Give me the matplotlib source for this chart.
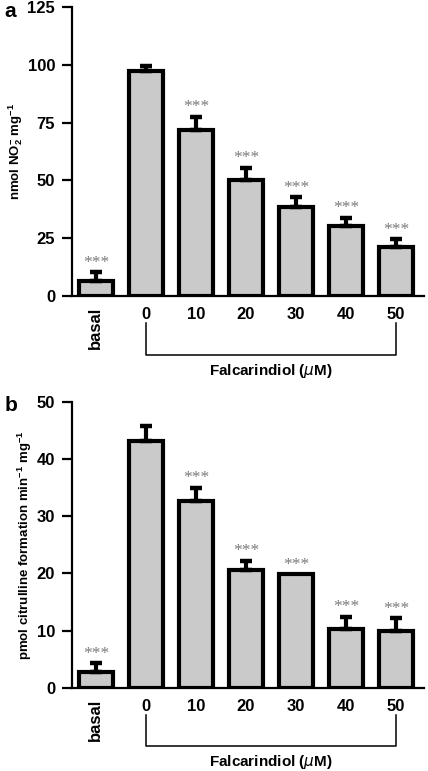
import matplotlib.pyplot as plt
import matplotlib.transforms as mtransforms

plt.rcParams['font.family'] = ['Liberation Sans', 'DejaVu Sans']
plt.rcParams['mathtext.default'] = 'regular'

# categories
labels = ['basal', '0', '10', '20', '30', '40', '50']

# panel a: nitrite production
no2_mean = [6.5, 97.5, 72.0, 50.0, 38.7, 30.3, 21.2]
no2_err = [3.8, 2.0, 5.5, 5.5, 4.0, 3.5, 3.5]
no2_sig = ['***', '', '***', '***', '***', '***', '***']

# panel b: citrulline formation
cit_mean = [2.7, 43.1, 32.7, 20.6, 19.8, 10.2, 9.9]
cit_err = [1.6, 2.7, 2.3, 1.6, 0.0, 2.2, 2.3]
cit_sig = ['***', '', '***', '***', '***', '***', '***']

fig = plt.figure(figsize=(4.28, 7.71), dpi=100)
ax_a = fig.add_axes([0.168, 0.616, 0.823, 0.375])
ax_b = fig.add_axes([0.168, 0.108, 0.823, 0.371])


def draw_panel(ax, mean, err, sig, ymax, step, ylabel, letter):
    x = list(range(len(mean)))
    ax.bar(x, mean, width=0.68, color='#cacaca', edgecolor='black',
           linewidth=3, zorder=2)
    xe = [i for i in x if err[i] > 0]
    ax.errorbar(xe, [mean[i] for i in xe],
                yerr=[[0] * len(xe), [err[i] for i in xe]],
                fmt='none', ecolor='black', elinewidth=3, capsize=4.5,
                capthick=3.2, zorder=3)
    for i in x:
        if sig[i]:
            ax.annotate(sig[i], (i, mean[i] + err[i]), xytext=(0, 1),
                        textcoords='offset points', ha='center', va='bottom',
                        fontsize=12.5, color='#7a7a7a', family='Liberation Serif')

    ax.set_xlim(-0.48, 6.56)
    ax.set_ylim(0, ymax)
    ax.set_yticks(range(0, ymax + 1, step))
    ax.set_xticks(x)
    ax.set_xticklabels(labels)
    ax.get_xticklabels()[0].set_rotation(90)
    ax.get_xticklabels()[0].set_va('top')
    for side in ['top', 'right']:
        ax.spines[side].set_visible(False)
    for side in ['left', 'bottom']:
        ax.spines[side].set_linewidth(1.6)
    ax.tick_params(axis='y', direction='out', length=7, width=1.6, pad=5,
                   labelsize=12)
    ax.tick_params(axis='x', length=0, pad=8, labelsize=12)
    for t in ax.get_xticklabels() + ax.get_yticklabels():
        t.set_fontweight('bold')
    ax.set_ylabel(ylabel, fontsize=9.5, fontweight='bold', labelpad=2)

    # bracket under the Falcarindiol doses
    trans = mtransforms.blended_transform_factory(ax.transData, ax.transAxes)
    ax.plot([1, 1, 6, 6], [-0.094, -0.204, -0.204, -0.094], color='black',
            lw=1.1, transform=trans, clip_on=False)
    ax.text(3.5, -0.228, r'Falcarindiol ($\mathit{\mu}$M)', transform=trans,
            ha='center', va='top', fontsize=11, fontweight='bold')
    ax.text(-0.192, 0.985, letter, transform=ax.transAxes, fontsize=15,
            fontweight='bold', ha='left', va='center')


draw_panel(ax_a, no2_mean, no2_err, no2_sig, 125, 25,
           r'nmol NO$_2^{-}$ mg$^{-1}$', 'a')
draw_panel(ax_b, cit_mean, cit_err, cit_sig, 50, 10,
           r'pmol citrulline formation min$^{-1}$ mg$^{-1}$', 'b')

fig.savefig('out.png', dpi=100)
